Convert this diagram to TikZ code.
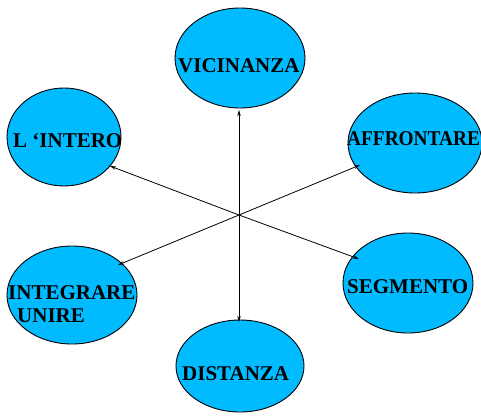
\documentclass[tikz,border=0pt]{standalone}
\usepackage{fontspec}
\setmainfont{Liberation Serif}
\usetikzlibrary{shapes.geometric,arrows.meta}
\definecolor{skyfill}{RGB}{0,187,255}
\begin{document}
\begin{tikzpicture}[x=1pt,y=-1pt,
  bubble/.style={ellipse,draw=black,line width=0.9pt,fill=skyfill,inner sep=0pt},
  word/.style={anchor=base west,inner sep=0pt,font=\fontsize{21}{23}\selectfont\bfseries},
  link/.style={line width=0.8pt,-{Stealth[length=6pt,width=3.5pt]}}]
\useasboundingbox (0,0) rectangle (481,415);

% ellipses
\node[bubble,minimum width=130pt,minimum height=100pt] (vic) at (240,58) {};
\node[bubble,minimum width=114pt,minimum height=98pt]  (int) at (64,137) {};
\node[bubble,minimum width=134pt,minimum height=100pt] (aff) at (415,143) {};
\node[bubble,minimum width=130pt,minimum height=100pt] (seg) at (408,283) {};
\node[bubble,minimum width=130pt,minimum height=98pt]  (ing) at (72,295) {};
\node[bubble,minimum width=128pt,minimum height=92pt]  (dis) at (240,366) {};

% labels
\node[word] (tvic) at (178,72.6) {VICINANZA};
\node[word] (tint) at (13,147) {L ‘INTERO};
\node[word] (taff) at (347,145) {\scalebox{0.92}[1]{AFFRONTARE}};
\node[word] (tseg) at (347,293) {SEGMENTO};
\node[word] (ting) at (8,299) {INTEGRARE};
\node[word] (tuni) at (17,322) {UNIRE};
\node[word] (tdis) at (182,380) {DISTANZA};

% arrows from the common centre
\coordinate (c) at (239,215);
\coordinate (pvic) at (239,110);
\coordinate (pdis) at (239,322);
\coordinate (pint) at (110,166);
\coordinate (paff) at (360,165);
\coordinate (pseg) at (359,259);
\coordinate (ping) at (118,265);
\foreach \p in {pvic,pdis,pint,paff,pseg,ping}
  \draw[link] (c) -- (\p);
\end{tikzpicture}
\end{document}
